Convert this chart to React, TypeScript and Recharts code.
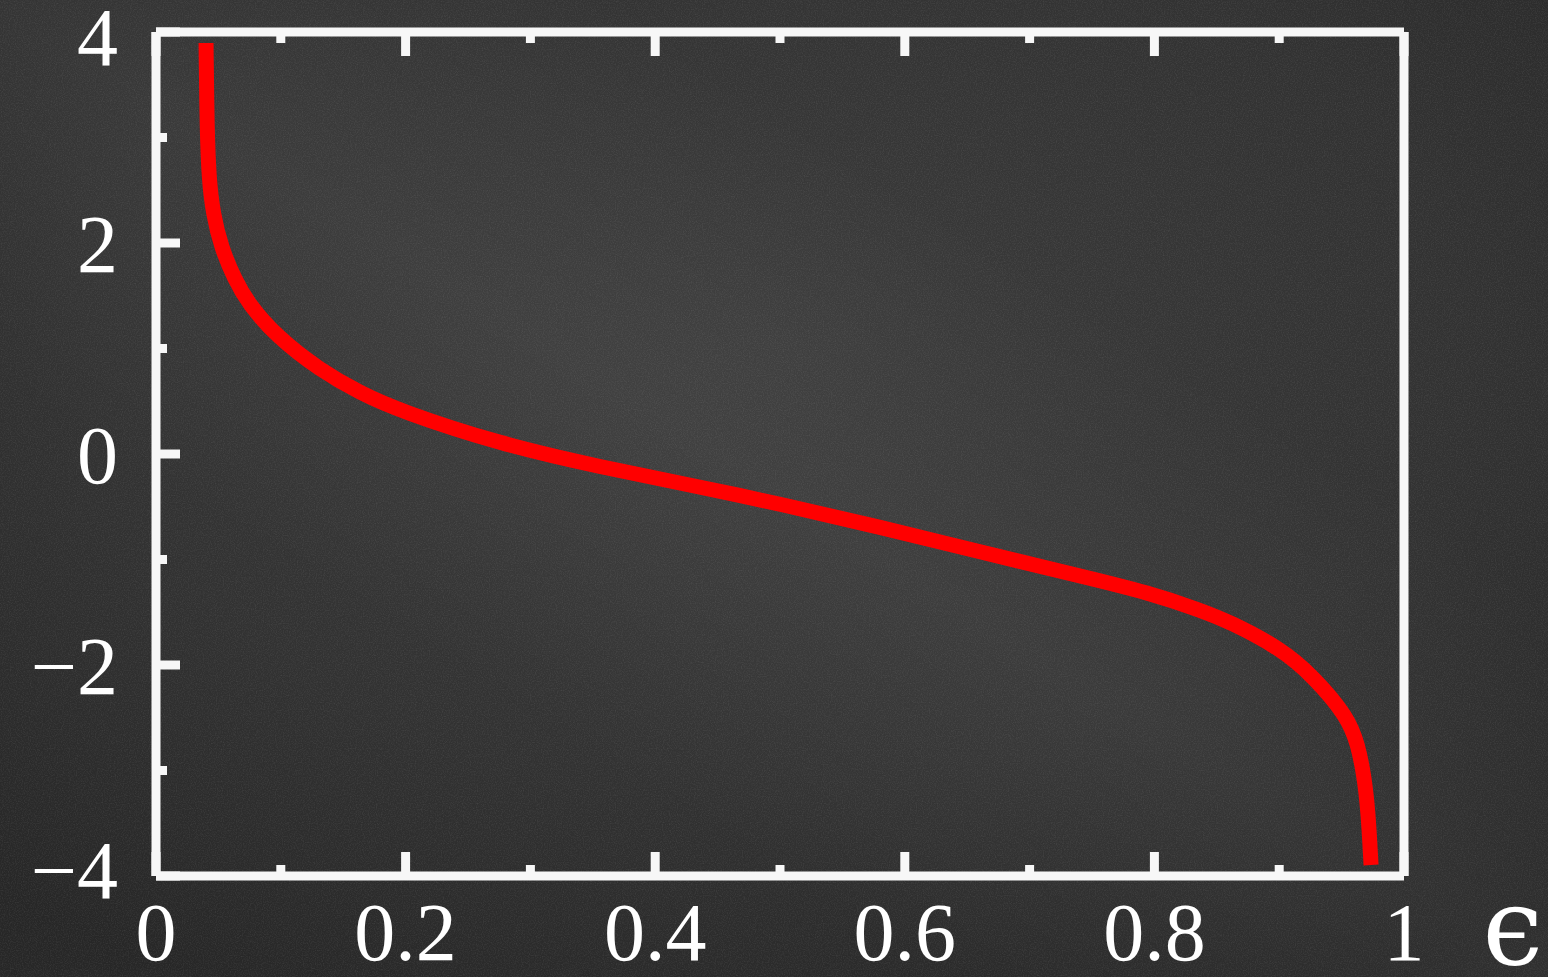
import { LineChart, Line, XAxis, YAxis } from "recharts";

// curve: epsilon (x) and value (y)
const epsilon = [
  0.0401, 0.0409, 0.0425, 0.0457, 0.0521, 0.0633, 0.0737, 0.097, 0.1314, 0.1635,
  0.1955, 0.2756, 0.3558, 0.4359, 0.5, 0.5801, 0.6603, 0.7404, 0.7965,
  0.8365, 0.8606, 0.9006, 0.9271, 0.9551, 0.9631, 0.9679, 0.9712, 0.9736,
];
const values = [
  3.896, 3.071, 2.597, 2.284, 1.962, 1.649, 1.431, 1.109, 0.796, 0.578,
  0.408, 0.095, -0.123, -0.313, -0.474, -0.692, -0.929, -1.156, -1.318,
  -1.479, -1.592, -1.839, -2.104, -2.493, -2.758, -3.043, -3.374, -3.896,
];

const xTicks = [0, 0.1, 0.2, 0.3, 0.4, 0.5, 0.6, 0.7, 0.8, 0.9, 1];
const xLabels = [0, 0.2, 0.4, 0.6, 0.8, 1];
const yTicks = [-4, -3, -2, -1, 0, 1, 2, 3, 4];
const yLabels = [-4, -2, 0, 2, 4];

const data = epsilon.map((e, i) => ({ e, v: values[i] }));

const W = 1548;
const H = 977;
const WHITE = "#f7f7f7";
const FONT = "'Liberation Serif', 'DejaVu Serif', serif";
const FS = 82;
const MAJOR = 24;
const MINOR = 11;
const TW = 9;

const isMajorX = (v: number) => xLabels.some((l) => Math.abs(l - v) < 1e-6);
const isMajorY = (v: number) => yLabels.includes(v);
const fmt = (v: number) => (v < 0 ? "\u2212" + Math.abs(v) : String(v));

function BottomTick({ x, y, payload }: any) {
  const v = payload.value;
  const len = isMajorX(v) ? MAJOR : MINOR;
  return (
    <g>
      <line x1={x} x2={x} y1={y} y2={y - len} stroke={WHITE} strokeWidth={TW} />
      {isMajorX(v) && (
        <text x={x} y={y + 84} textAnchor="middle" fill="#fff" fontSize={FS} fontFamily={FONT}>
          {fmt(v)}
        </text>
      )}
    </g>
  );
}

function TopTick({ x, y, payload }: any) {
  const len = isMajorX(payload.value) ? MAJOR : MINOR;
  return <line x1={x} x2={x} y1={y} y2={y + len} stroke={WHITE} strokeWidth={TW} />;
}

function LeftTick({ x, y, payload }: any) {
  const v = payload.value;
  const len = isMajorY(v) ? MAJOR : MINOR;
  const dy = v === 4 ? 33 : v === -4 ? 22 : 29;
  return (
    <g>
      <line x1={x} x2={x + len} y1={y} y2={y} stroke={WHITE} strokeWidth={TW} />
      {isMajorY(v) && (
        <text x={x - 38} y={y + dy} textAnchor="end" fill="#fff" fontSize={FS} fontFamily={FONT}>
          {fmt(v)}
        </text>
      )}
    </g>
  );
}

function RightTick({ x, y, payload }: any) {
  const len = isMajorY(payload.value) ? MAJOR : MINOR;
  return <line x1={x} x2={x - len} y1={y} y2={y} stroke={WHITE} strokeWidth={TW} />;
}

function EpsLabel({ viewBox }: any) {
  return (
    <text
      x={viewBox.x + viewBox.width + 139}
      y={viewBox.y + 88}
      textAnchor="end"
      fill="#fff"
      fontSize={108}
      fontFamily="'DejaVu Serif', serif"
    >
      {"\u03F5"}
    </text>
  );
}

function Chalkboard() {
  return (
    <svg width={W} height={H} style={{ position: "absolute", left: 0, top: 0 }}>
      <defs>
        <radialGradient id="glow" cx="0.5" cy="0.35" r="0.75">
          <stop offset="0" stopColor="#3b3b3b" />
          <stop offset="0.6" stopColor="#323232" />
          <stop offset="1" stopColor="#272727" />
        </radialGradient>
        <linearGradient id="streak" x1="0" y1="1" x2="1" y2="0">
          <stop offset="0.3" stopColor="#ffffff" stopOpacity="0" />
          <stop offset="0.5" stopColor="#ffffff" stopOpacity="0.04" />
          <stop offset="0.7" stopColor="#ffffff" stopOpacity="0" />
        </linearGradient>
        <filter id="grain">
          <feTurbulence type="fractalNoise" baseFrequency="0.85" numOctaves="2" seed="3" />
          <feColorMatrix type="matrix" values="0 0 0 0 1  0 0 0 0 1  0 0 0 0 1  1 0 0 0 -0.4" />
        </filter>
      </defs>
      <rect width={W} height={H} fill="url(#glow)" />
      <rect width={W} height={H} fill="url(#streak)" />
      <rect width={W} height={H} filter="url(#grain)" opacity={0.16} />
    </svg>
  );
}

export default function App() {
  return (
    <div style={{ position: "absolute", left: 0, top: 0, width: W, height: H, overflow: "hidden", background: "#303030" }}>
      <Chalkboard />
      <div style={{ position: "absolute", left: 0, top: 0 }}>
        <LineChart width={W} height={H} data={data} margin={{ top: 0, right: 0, bottom: 0, left: 0 }}>
          <XAxis
            dataKey="e"
            type="number"
            domain={[0, 1]}
            ticks={xTicks}
            interval={0}
            height={101}
            tickSize={0}
            tickMargin={0}
            axisLine={{ stroke: WHITE, strokeWidth: TW }}
            tickLine={false}
            tick={BottomTick}
            label={<EpsLabel />}
          />
          <XAxis
            xAxisId="top"
            orientation="top"
            dataKey="e"
            type="number"
            domain={[0, 1]}
            ticks={xTicks}
            interval={0}
            height={32}
            tickSize={0}
            tickMargin={0}
            axisLine={{ stroke: WHITE, strokeWidth: TW }}
            tickLine={false}
            tick={TopTick}
          />
          <YAxis
            type="number"
            domain={[-4, 4]}
            ticks={yTicks}
            interval={0}
            width={156}
            tickSize={0}
            tickMargin={0}
            axisLine={{ stroke: WHITE, strokeWidth: TW }}
            tickLine={false}
            tick={LeftTick}
          />
          <YAxis
            yAxisId="right"
            orientation="right"
            type="number"
            domain={[-4, 4]}
            ticks={yTicks}
            interval={0}
            width={144}
            tickSize={0}
            tickMargin={0}
            axisLine={{ stroke: WHITE, strokeWidth: TW }}
            tickLine={false}
            tick={RightTick}
          />
          <Line
            type="basis"
            dataKey="v"
            stroke="#ff0000"
            strokeWidth={15}
            dot={false}
            isAnimationActive={false}
          />
        </LineChart>
      </div>
    </div>
  );
}
